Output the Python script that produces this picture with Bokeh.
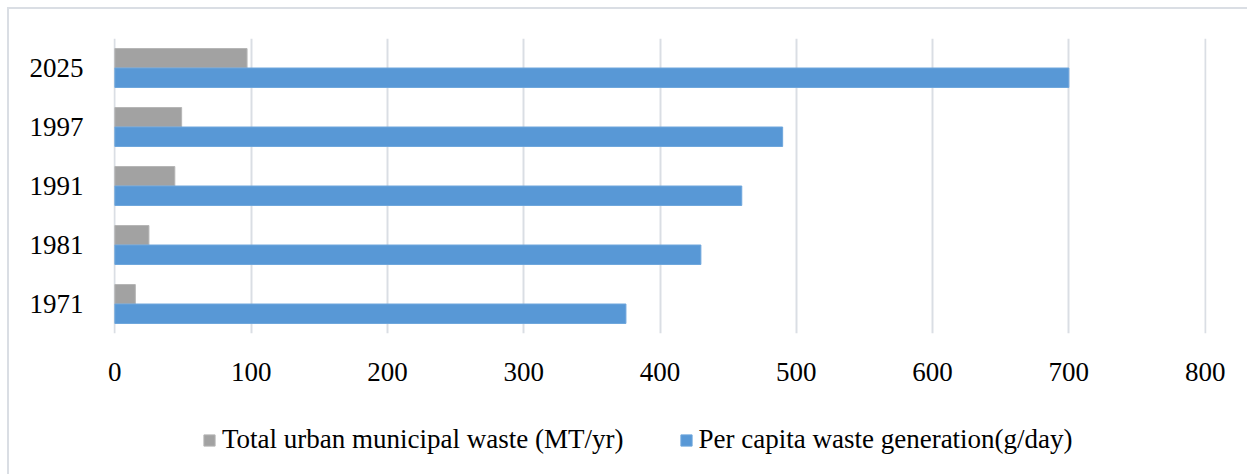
from bokeh.plotting import figure
from bokeh.layouts import column
from bokeh.models import FactorRange, Range1d, Legend, LegendItem, SingleIntervalTicker, ColumnDataSource
from bokeh.transform import dodge
from bokeh.embed import file_html
from bokeh.resources import INLINE

years = ["1971", "1981", "1991", "1997", "2025"]
total_waste = [15, 25, 44, 49, 97]          # MT/yr
per_capita = [375, 430, 460, 490, 700]      # g/day

label_total = "Total urban municipal waste (MT/yr)"
label_capita = "Per capita waste generation(g/day)"

src = ColumnDataSource(dict(year=years, total=total_waste, capita=per_capita))

FONT = "Liberation Serif"
GRID = "#dadee4"
GRAY = "#a2a2a2"
BLUE = "#5898d6"

# ---- main chart ----
p = figure(
    y_range=FactorRange(*years, range_padding=0, factor_padding=0),
    x_range=Range1d(-1, 801),
    width=1238, height=380,
    min_border_left=104, min_border_right=41, min_border_top=29, min_border_bottom=56,
    output_backend="svg", toolbar_location=None,
)
p.outline_line_color = None
p.background_fill_color = "white"
p.border_fill_color = "white"

p.hbar(y=dodge("year", 0.165, range=p.y_range), right="total", left=0, height=0.33,
       source=src, fill_color=GRAY, line_color="#b5b5b5", line_width=1)
p.hbar(y=dodge("year", -0.165, range=p.y_range), right="capita", left=0, height=0.33,
       source=src, fill_color=BLUE, line_color="#6ea6dc", line_width=1)

p.xaxis.ticker = SingleIntervalTicker(interval=100)
p.xgrid.ticker = SingleIntervalTicker(interval=100)
p.xgrid.grid_line_color = GRID
p.xgrid.grid_line_width = 2
p.ygrid.grid_line_color = None

for ax in (p.xaxis[0], p.yaxis[0]):
    ax.axis_line_color = None
    ax.major_tick_line_color = None
    ax.minor_tick_line_color = None
    ax.major_label_text_font = FONT
    ax.major_label_text_font_size = "27px"
    ax.major_label_text_color = "black"
p.xaxis.major_label_standoff = 23
p.yaxis.major_label_standoff = 24

# ---- legend strip (same series; renderers hidden, only the legend shows) ----
q = figure(
    y_range=FactorRange(*years, range_padding=0, factor_padding=0),
    x_range=Range1d(-1, 801),
    width=1238, height=85,
    min_border_left=104, min_border_right=41, min_border_top=0, min_border_bottom=0,
    x_axis_location=None, y_axis_location=None,
    output_backend="svg", toolbar_location=None,
)
q.outline_line_color = None
q.grid.visible = False
q.background_fill_color = "white"
q.border_fill_color = "white"
l1 = q.hbar(y=dodge("year", 0.165, range=q.y_range), right="total", left=0, height=0.33,
            source=src, fill_color=GRAY, line_color="#b5b5b5", line_width=1)
l2 = q.hbar(y=dodge("year", -0.165, range=q.y_range), right="capita", left=0, height=0.33,
            source=src, fill_color=BLUE, line_color="#6ea6dc", line_width=1)
l1.visible = False
l2.visible = False

legend = Legend(
    items=[LegendItem(label=label_total, renderers=[l1]),
           LegendItem(label=label_capita, renderers=[l2])],
    orientation="horizontal", location=(89, 19),
    padding=0, margin=0, spacing=55,
    glyph_width=14, glyph_height=14, label_standoff=6,
    label_text_font=FONT, label_text_font_size="27px", label_text_color="black",
    border_line_color=None, background_fill_alpha=0,
)
q.add_layout(legend, "center")

layout = column(p, q, spacing=0)
layout.styles = {"margin-left": "7px", "margin-top": "7px",
                 "border-left": f"2px solid {GRID}", "border-top": f"2px solid {GRID}"}

open("out.html", "w").write(file_html(layout, INLINE))
